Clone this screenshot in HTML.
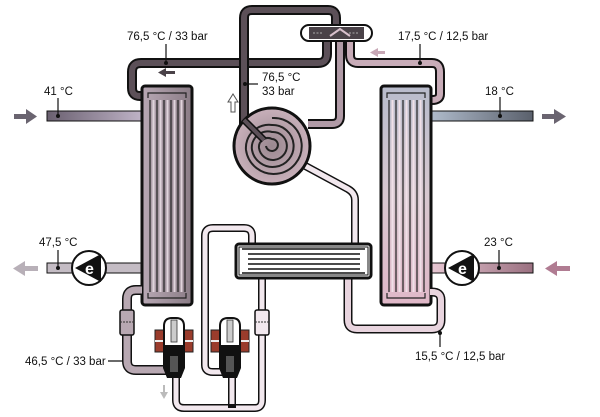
<!DOCTYPE html>
<html><head><meta charset="utf-8"><style>
html,body{margin:0;padding:0;background:#fff;}
svg{display:block;}
text{font-family:"Liberation Sans",sans-serif;font-size:11.5px;fill:#111;}
</style></head><body>
<svg width="600" height="417" viewBox="0 0 600 417" xmlns="http://www.w3.org/2000/svg">
<defs>
<linearGradient id="lhx" x1="0" x2="1"><stop offset="0" stop-color="#b8a8b4"/><stop offset="1" stop-color="#8a7c86"/></linearGradient>
<linearGradient id="rhx" x1="0" y1="0" x2="0" y2="1"><stop offset="0" stop-color="#b8bccc"/><stop offset="0.5" stop-color="#d8c8d0"/><stop offset="1" stop-color="#e0b8c8"/></linearGradient>
<linearGradient id="p41" x1="0" x2="1"><stop offset="0" stop-color="#6a6070"/><stop offset="1" stop-color="#c0b4c8"/></linearGradient>
<linearGradient id="p18" x1="0" x2="1"><stop offset="0" stop-color="#b0bccc"/><stop offset="1" stop-color="#5a606c"/></linearGradient>
<linearGradient id="p23" x1="0" x2="1"><stop offset="0" stop-color="#e8c8d4"/><stop offset="1" stop-color="#9a7080"/></linearGradient>
<radialGradient id="comp"><stop offset="0" stop-color="#9a8890"/><stop offset="1" stop-color="#c8b0ba"/></radialGradient>
</defs>

<!-- ===== outer hot loop top ===== -->
<g fill="none" stroke-linecap="butt" stroke-linejoin="round">
<!-- left top pipe -->
<path d="M142 96 H140 Q132 96 132 88 V72 Q132 63 141 63 H318 Q327 63 327 54 V40" stroke="#111" stroke-width="10"/>
<path d="M142 96 H140 Q132 96 132 88 V72 Q132 63 141 63 H318 Q327 63 327 54 V40" stroke="#5c5058" stroke-width="6"/>
<!-- vertical compressor discharge loop -->
<path d="M244 125 V18 Q244 10 252 10 H328 Q336 10 336 18 V28" stroke="#111" stroke-width="10"/>
<path d="M244 125 V18 Q244 10 252 10 H328 Q336 10 336 18 V28" stroke="#5c5058" stroke-width="6"/>
<!-- suction pink pipe -->
<path d="M340 34 V116 Q340 124 332 124 H308" stroke="#111" stroke-width="10"/>
<path d="M340 34 V116 Q340 124 332 124 H308" stroke="#b09aa6" stroke-width="6"/>
<!-- 17.5 pipe -->
<path d="M350 38 V55 Q350 63 358 63 H432 Q440 63 440 72 V94 Q440 100 432 100 H430" stroke="#111" stroke-width="10"/>
<path d="M350 38 V55 Q350 63 358 63 H432 Q440 63 440 72 V94 Q440 100 432 100 H430" stroke="#c8acb8" stroke-width="6"/>
</g>

<!-- expansion/valve on top -->
<rect x="301" y="25" width="71" height="16" rx="8" fill="#fff" stroke="#111" stroke-width="2"/>
<rect x="309" y="27" width="55" height="12" fill="#4a4248"/>
<path d="M313 33 H322 M349 33 H358" stroke="#aaa" stroke-width="1" stroke-dasharray="2 1.5"/>
<path d="M330 36 L340 29 L350 36" fill="none" stroke="#d8c0cc" stroke-width="2"/>

<!-- side pipes -->
<rect x="47" y="111" width="96" height="10" fill="url(#p41)" stroke="#111" stroke-width="1"/>
<rect x="430" y="111" width="103" height="10" fill="url(#p18)" stroke="#111" stroke-width="1"/>
<rect x="47" y="263" width="96" height="10" fill="#c4bcc4" stroke="#111" stroke-width="1"/>
<rect x="430" y="263" width="103" height="10" fill="url(#p23)" stroke="#111" stroke-width="1"/>

<!-- dots -->
<g fill="#111"><circle cx="58" cy="116" r="2"/><circle cx="166" cy="63" r="2"/><circle cx="245" cy="84" r="2"/><circle cx="420" cy="63" r="2"/><circle cx="500" cy="116" r="2"/><circle cx="58" cy="268" r="2"/><circle cx="499" cy="268" r="2"/><circle cx="125" cy="361" r="2"/><circle cx="440" cy="333" r="2"/></g>
<g stroke="#111" stroke-width="1.2">
<line x1="58" y1="98" x2="58" y2="116"/><line x1="166" y1="44" x2="166" y2="63"/><line x1="245" y1="84" x2="258" y2="84"/><line x1="420" y1="44" x2="420" y2="63"/><line x1="500" y1="97" x2="500" y2="116"/><line x1="58" y1="250" x2="58" y2="268"/><line x1="499" y1="250" x2="499" y2="268"/><line x1="108" y1="361" x2="125" y2="361"/><line x1="440" y1="333" x2="440" y2="347"/>
</g>

<!-- big arrows -->
<g fill="#6a6470"><rect x="14" y="114" width="14" height="5"/><polygon points="26,109 37,116.5 26,124"/></g>
<g fill="#6a6470"><rect x="542" y="114" width="14" height="5"/><polygon points="554,109 566,116.5 554,124"/></g>
<g fill="#b8b0b8"><rect x="24" y="266" width="14" height="5"/><polygon points="25,261 13,268.5 25,276"/></g>
<g fill="#b07c92"><rect x="556" y="266" width="14" height="5"/><polygon points="557,261 545,268.5 557,276"/></g>
<!-- small arrows -->
<g fill="#4a4248"><rect x="165" y="71" width="10" height="3"/><polygon points="166,68 158,72.5 166,77"/></g>
<g fill="#c8a8b6"><rect x="377" y="51" width="8" height="3"/><polygon points="378,48 370,52.5 378,57"/></g>
<path d="M231 112 V102 H228 L233 94 L238 102 H235 V112 Z" fill="#fff" stroke="#555" stroke-width="1"/>
<g fill="#bbb"><rect x="163" y="385" width="2" height="8"/><polygon points="160,392 164,399 168,392"/></g>

<!-- heat exchangers -->
<rect x="142" y="86" width="50" height="219" rx="3" fill="url(#lhx)" stroke="#111" stroke-width="3"/>
<g fill="none" stroke="#222" stroke-width="1.2">
<path d="M148 98 V93 H186 V98 M150 100 V292 M157 100 V292 M164 100 V292 M171 100 V292 M178 100 V292 M185 100 V292"/>
<path d="M148 293 V298 H186 V293"/>
</g>
<g stroke="#e0d4dc" stroke-width="2"><line x1="153.5" y1="100" x2="153.5" y2="292"/><line x1="160.5" y1="100" x2="160.5" y2="292"/><line x1="167.5" y1="100" x2="167.5" y2="292"/><line x1="174.5" y1="100" x2="174.5" y2="292"/><line x1="181.5" y1="100" x2="181.5" y2="292"/></g>

<rect x="381" y="86" width="50" height="219" rx="3" fill="url(#rhx)" stroke="#111" stroke-width="3"/>
<g fill="none" stroke="#222" stroke-width="1.2">
<path d="M387 98 V93 H425 V98 M389 100 V292 M396 100 V292 M403 100 V292 M410 100 V292 M417 100 V292 M424 100 V292"/>
<path d="M387 293 V298 H425 V293"/>
</g>
<g stroke="#f0e0e8" stroke-width="2"><line x1="392.5" y1="100" x2="392.5" y2="292"/><line x1="399.5" y1="100" x2="399.5" y2="292"/><line x1="406.5" y1="100" x2="406.5" y2="292"/><line x1="413.5" y1="100" x2="413.5" y2="292"/><line x1="420.5" y1="100" x2="420.5" y2="292"/></g>

<!-- lower pipes -->
<g fill="none" stroke-linejoin="round">
<!-- left hx bottom to valve1 -->
<path d="M142 290 H136 Q127 290 127 299 V361 Q127 370 136 370 H172" stroke="#111" stroke-width="10"/>
<path d="M142 290 H136 Q127 290 127 299 V361 Q127 370 136 370 H172" stroke="#b8a8b2" stroke-width="7"/>
<!-- compressor to ihx -->
<path d="M298 162 L348 189 Q355 193 355 200 V245" stroke="#111" stroke-width="8"/>
<path d="M298 162 L348 189 Q355 193 355 200 V245" stroke="#f2e8ee" stroke-width="5"/>
<!-- loop to valve2 -->
<path d="M252 250 V236 Q252 228 244 228 H213 Q205 228 205 236 V365 Q205 372 213 372 H226" stroke="#111" stroke-width="8"/>
<path d="M252 250 V236 Q252 228 244 228 H213 Q205 228 205 236 V365 Q205 372 213 372 H226" stroke="#f2e8ee" stroke-width="5"/>
<!-- bottom collector -->
<path d="M176 372 V400 Q176 408 184 408 H255 Q262 408 262 400 V276" stroke="#111" stroke-width="8"/>
<path d="M176 372 V400 Q176 408 184 408 H255 Q262 408 262 400 V276" stroke="#f2e8ee" stroke-width="5"/>
<path d="M232 372 V408" stroke="#111" stroke-width="8"/>
<path d="M232 372 V404" stroke="#f2e8ee" stroke-width="5"/>
<!-- ihx to right hx bottom -->
<path d="M348 276 V320 Q348 329 357 329 H432 Q441 329 441 320 V300 Q441 292 432 292 H430" stroke="#111" stroke-width="9"/>
<path d="M348 276 V320 Q348 329 357 329 H432 Q441 329 441 320 V300 Q441 292 432 292 H430" stroke="#e8d4de" stroke-width="6"/>
</g>
<!-- filters -->
<rect x="120" y="310" width="14" height="25" rx="2" fill="#b8a8b2" stroke="#111" stroke-width="1.5"/>
<line x1="120" y1="322" x2="134" y2="322" stroke="#333" stroke-dasharray="2 1"/>
<rect x="255" y="310" width="14" height="25" rx="2" fill="#f2e8ee" stroke="#111" stroke-width="1.5"/>
<line x1="255" y1="322" x2="269" y2="322" stroke="#333" stroke-dasharray="2 1"/>

<!-- internal HX -->
<rect x="236" y="244" width="135" height="34" rx="3" fill="#fff" stroke="#111" stroke-width="3"/>
<g stroke="#111" stroke-width="1.5" fill="none">
<line x1="242" y1="249" x2="365" y2="249"/><line x1="248" y1="254" x2="360" y2="254"/><line x1="248" y1="259" x2="360" y2="259"/><line x1="248" y1="264" x2="360" y2="264"/><line x1="248" y1="269" x2="360" y2="269"/><line x1="242" y1="273" x2="365" y2="273"/>
</g>
<rect x="239" y="247" width="129" height="28" fill="none" stroke="#111" stroke-width="1"/>

<!-- compressor -->
<circle cx="272" cy="146" r="38" fill="url(#comp)" stroke="#111" stroke-width="3"/>
<g fill="none" stroke="#222" stroke-width="2">
<path d="M272 118 A28 28 0 1 1 246 150 A23 23 0 0 1 272 125 A21 21 0 1 1 252 150 A16 16 0 0 1 272 132 A14 14 0 1 1 259 148 A9 9 0 0 1 272 139 A6 6 0 1 1 266 146"/>
</g>
<path d="M244 120 L264 140" stroke="#111" stroke-width="7"/>
<path d="M244 120 L264 140" stroke="#5c5058" stroke-width="4"/>

<!-- pumps -->
<g>
<circle cx="89" cy="268" r="17" fill="#fff" stroke="#111" stroke-width="2"/>
<polygon points="75,268 101,254 101,282" fill="#111"/>
<text x="85" y="274" style="font-size:16px;font-weight:bold;fill:#fff">e</text>
</g>
<g>
<circle cx="462" cy="268" r="17" fill="#fff" stroke="#111" stroke-width="2"/>
<polygon points="448,268 474,254 474,282" fill="#111"/>
<text x="458" y="274" style="font-size:16px;font-weight:bold;fill:#fff">e</text>
</g>

<!-- solenoid valves -->
<g id="v1">
<rect x="155" y="330" width="9" height="22" fill="#9a3c2c" stroke="#222"/>
<rect x="184" y="330" width="9" height="22" fill="#9a3c2c" stroke="#222"/>
<line x1="155" y1="341" x2="164" y2="341" stroke="#eee" stroke-width="2"/><line x1="184" y1="341" x2="193" y2="341" stroke="#eee" stroke-width="2"/>
<path d="M164 360 V326 Q164 318 172 318 H176 Q184 318 184 326 V360 Z" fill="#fff" stroke="#111" stroke-width="2"/>
<rect x="171" y="320" width="6" height="22" fill="#ccc" stroke="#333" stroke-width="0.8"/>
<path d="M163 345 H185 V368 L181 378 H167 L163 368 Z" fill="#111"/>
<rect x="170" y="356" width="8" height="16" fill="#555"/>
</g>
<use href="#v1" x="56" y="0"/>

<!-- labels -->
<text x="127" y="40">76,5 °C / 33 bar</text>
<text x="262" y="81">76,5 °C</text>
<text x="262" y="95">33 bar</text>
<text x="398" y="40">17,5 °C / 12,5 bar</text>
<text x="44" y="95">41 °C</text>
<text x="485" y="95">18 °C</text>
<text x="39" y="246">47,5 °C</text>
<text x="484" y="246">23 °C</text>
<text x="25" y="365">46,5 °C / 33 bar</text>
<text x="415" y="360">15,5 °C / 12,5 bar</text>
</svg>
</body></html>
